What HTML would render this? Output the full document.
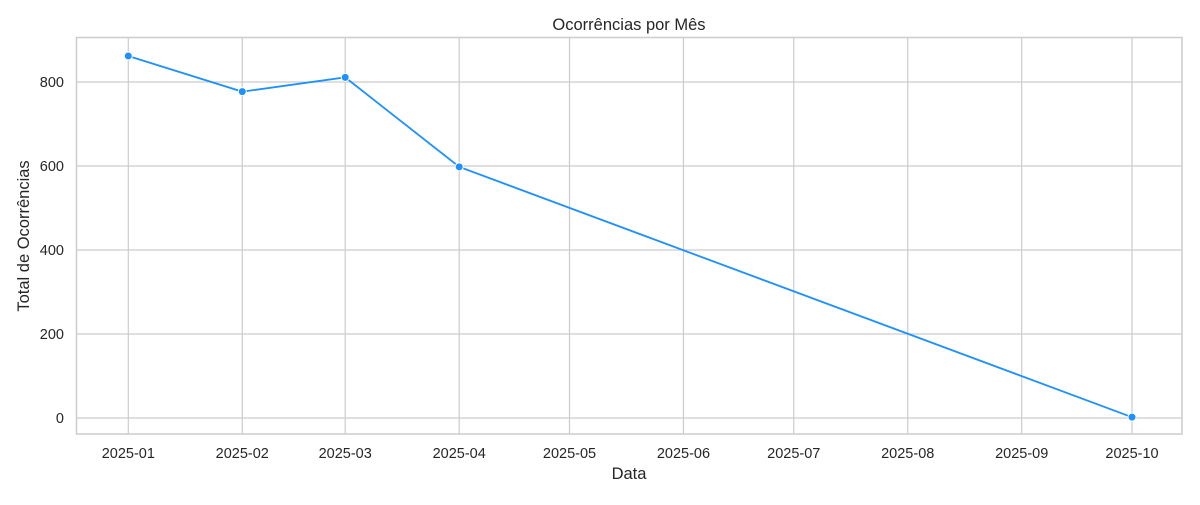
<!DOCTYPE html>
<html><head><meta charset="utf-8"><style>
body{margin:0;background:#fff;font-family:"Liberation Sans","DejaVu Sans",sans-serif;}
svg text{fill:#262626;font-family:"Liberation Sans","DejaVu Sans",sans-serif;}
</style></head><body>
<svg id="chart" width="1200" height="500" xmlns="http://www.w3.org/2000/svg">
<rect width="1200" height="500" fill="#fff"/>
<g id="grid"></g>
<g id="axes"></g>
<g id="series"></g>
<text x="629" y="30" text-anchor="middle" font-size="16.5">Ocorrências por Mês</text>
<text x="629" y="479" text-anchor="middle" font-size="16.5">Data</text>
<text transform="translate(29,236) rotate(-90)" text-anchor="middle" font-size="16.5">Total de Ocorrências</text>
</svg>
<script>
const dates = ["2025-01-01","2025-02-01","2025-03-01","2025-04-01","2025-10-01"];
const values = [862, 777, 811, 598, 2];
const xTickLabels = ["2025-01","2025-02","2025-03","2025-04","2025-05","2025-06","2025-07","2025-08","2025-09","2025-10"];
const yTicks = [0, 200, 400, 600, 800];

const NS = "http://www.w3.org/2000/svg";
const L = 76.5, R = 1182, T = 37.5, B = 434;
const d0 = Date.parse("2025-01-01"), d1 = Date.parse("2025-10-01");
const x = d => 128.3 + (Date.parse(d) - d0) / (d1 - d0) * (1132 - 128.3);
const y = v => 418 - v * 0.42;
function mk(tag, attrs, parent){const e=document.createElementNS(NS,tag);for(const k in attrs)e.setAttribute(k,attrs[k]);parent.appendChild(e);return e;}
const grid=document.getElementById('grid'), axes=document.getElementById('axes'), series=document.getElementById('series');

xTickLabels.forEach(t=>{
  const px = x(t+"-01");
  const g = mk('line',{x1:px,x2:px,y1:T,y2:B,stroke:'#cccccc','stroke-width':1.2},grid);
  
  
  const tx = mk('text',{x:px,y:458,'text-anchor':'middle','font-size':14.5},axes);
  tx.textContent=t;
  
  
});
yTicks.forEach(v=>{
  const py = y(v);
  const g = mk('line',{x1:L,x2:R,y1:py,y2:py,stroke:'#cccccc','stroke-width':1.2},grid);
  
  
  const tx = mk('text',{x:64,y:py+5,'text-anchor':'end','font-size':14.5},axes);
  tx.textContent=v;
  
  
});
const frame = mk('rect',{x:L,y:T,width:R-L,height:B-T,fill:'none',stroke:'#cccccc','stroke-width':1.5},axes);



const pts = dates.map((d,i)=>x(d)+','+y(values[i])).join(' ');
const line = mk('polyline',{points:pts,fill:'none',stroke:'#1e90ff','stroke-width':1.8},series);


dates.forEach((d,i)=>{
  const c = mk('circle',{cx:x(d),cy:y(values[i]),r:4,fill:'#1e90ff',stroke:'#fff','stroke-width':1},series);
  
  
});
</script>
</body></html>
